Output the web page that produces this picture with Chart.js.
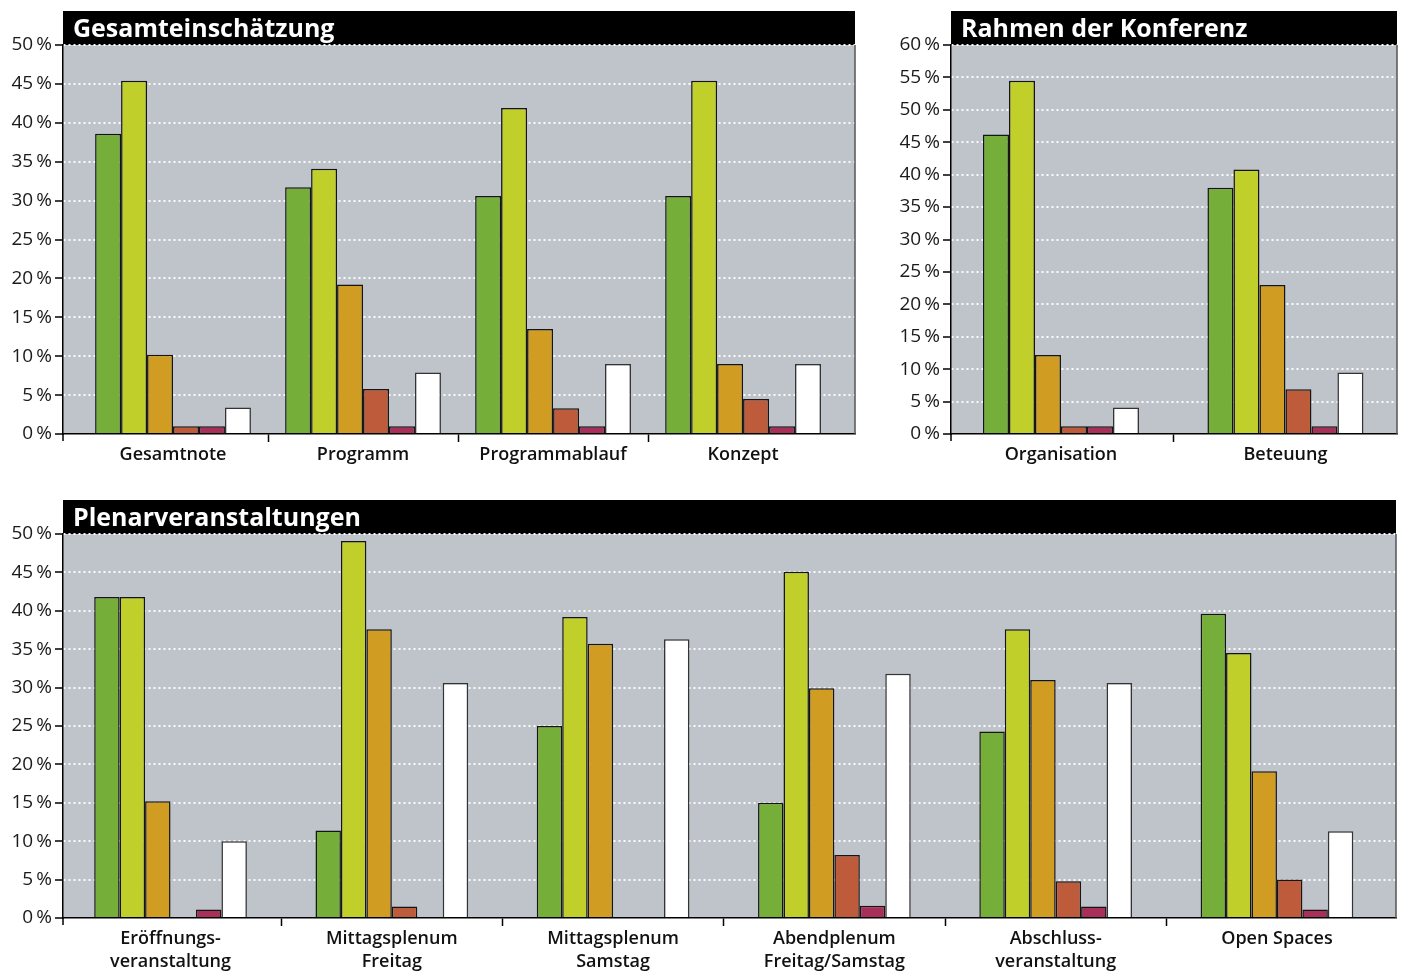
<!DOCTYPE html>
<html lang="de">
<head>
  <meta charset="UTF-8" />
  <title>Konferenz Auswertung</title>
  <script src="https://cdn.jsdelivr.net/npm/chart.js"></script>
  <style>
    body { margin: 0; background: #fff; width: 1405px; height: 971px; position: relative; overflow: hidden; }
    canvas { position: absolute; }
  </style>
</head>
<body>

  <canvas id="chartGesamt" width="870" height="480" style="left:0;top:0"></canvas>
  <canvas id="chartRahmen" width="535" height="480" style="left:870px;top:0"></canvas>
  <canvas id="chartPlenar" width="1405" height="491" style="left:0;top:480px"></canvas>

<script>
  // Rating levels (no legend in the original) and their bar colours
  const ratingNames = ['sehr gut', 'gut', 'befriedigend', 'ausreichend', 'mangelhaft', 'keine Angabe'];
  const ratingColors = ['#76ae3a', '#c1cf2a', '#d09d22', '#bd5b3b', '#a82f59', '#ffffff'];

  // Gesamteinschätzung (percent)
  const gesamtCategories = ['Gesamtnote', 'Programm', 'Programmablauf', 'Konzept'];
  const gesamtSehrGut     = [38.6, 31.7, 30.6, 30.6];
  const gesamtGut         = [45.4, 34.1, 41.9, 45.4];
  const gesamtBefr        = [10.2, 19.2, 13.5, 9.0];
  const gesamtAusr        = [1.0, 5.8, 3.3, 4.5];
  const gesamtMangelhaft  = [1.0, 1.0, 1.0, 1.0];
  const gesamtKeine       = [3.4, 7.9, 9.0, 9.0];

  // Rahmen der Konferenz (percent)
  const rahmenCategories = ['Organisation', 'Beteuung'];
  const rahmenSehrGut    = [46.2, 38.0];
  const rahmenGut        = [54.5, 40.8];
  const rahmenBefr       = [12.2, 23.0];
  const rahmenAusr       = [1.2, 6.9];
  const rahmenMangelhaft = [1.2, 1.2];
  const rahmenKeine      = [4.1, 9.5];

  // Plenarveranstaltungen (percent)
  const plenarCategories = [
    ['Eröffnungs-', 'veranstaltung'],
    ['Mittagsplenum', 'Freitag'],
    ['Mittagsplenum', 'Samstag'],
    ['Abendplenum', 'Freitag/Samstag'],
    ['Abschluss-', 'veranstaltung'],
    'Open Spaces'
  ];
  const plenarSehrGut    = [41.8, 11.4, 25.0, 15.0, 24.3, 39.6];
  const plenarGut        = [41.8, 49.1, 39.2, 45.1, 37.6, 34.5];
  const plenarBefr       = [15.2, 37.6, 35.7, 29.9, 31.0, 19.1];
  const plenarAusr       = [0, 1.5, 0, 8.2, 4.8, 5.0];
  const plenarMangelhaft = [1.1, 0, 0, 1.6, 1.5, 1.1];
  const plenarKeine      = [10.0, 30.6, 36.3, 31.8, 30.6, 11.3];

  Chart.defaults.font.family = '"Open Sans", "DejaVu Sans", sans-serif';

  // grey plot panel, black title bar, right frame and y-axis stub below the baseline
  const panelPlugin = {
    id: 'panel',
    beforeDraw(chart, args, opts) {
      const { ctx, chartArea: a } = chart;
      ctx.save();
      ctx.fillStyle = '#bfc3ca';
      ctx.fillRect(a.left, a.top, a.right - a.left, a.bottom - a.top);
      ctx.fillStyle = '#000';
      ctx.fillRect(a.left, a.top - 34, a.right - a.left, 34);
      ctx.fillStyle = '#fff';
      ctx.font = 'bold 25px "Open Sans", sans-serif';
      ctx.textBaseline = 'alphabetic';
      ctx.fillText(opts.text, a.left + 10, a.top - 8);
      ctx.restore();
    },
    afterDraw(chart) {
      const { ctx, chartArea: a } = chart;
      ctx.save();
      ctx.lineWidth = 1.5;
      ctx.strokeStyle = '#555';
      ctx.beginPath();
      ctx.moveTo(a.right, a.top);
      ctx.lineTo(a.right, a.bottom);
      ctx.stroke();
      ctx.strokeStyle = '#000';
      ctx.beginPath();
      ctx.moveTo(a.left, a.bottom);
      ctx.lineTo(a.left, a.bottom + 7);
      ctx.stroke();
      ctx.restore();
    }
  };

  function makeChart(id, cfg) {
    const datasets = cfg.series.map((values, i) => ({
      label: ratingNames[i],
      data: values,
      backgroundColor: ratingColors[i],
      borderColor: i === 5 ? '#333' : '#151515',
      borderWidth: c => (c.raw ? 1.5 : 0),
      categoryPercentage: cfg.barFrac,
      barPercentage: 1
    }));

    return new Chart(document.getElementById(id), {
      type: 'bar',
      data: { labels: cfg.categories.map((c, i) => i), datasets: datasets },
      plugins: [panelPlugin],
      options: {
        responsive: false,
        animation: false,
        layout: { padding: cfg.padding },
        plugins: {
          legend: { display: false },
          tooltip: { enabled: false },
          panel: { text: cfg.title }
        },
        scales: {
          x: {
            // linear index axis so the groups sit where they do in the original
            type: 'linear',
            min: cfg.xMin,
            max: cfg.xMax,
            offset: false,
            bounds: 'data',
            afterBuildTicks: s => { s.ticks = cfg.categories.map((c, i) => ({ value: i })); },
            afterFit: s => { s.height = cfg.xAxisHeight; },
            ticks: {
              autoSkip: false,
              maxRotation: 0,
              padding: 2,
              color: '#111',
              font: { size: 18, weight: '600', lineHeight: 1.25 },
              callback: v => cfg.categories[v]
            },
            grid: {
              offset: true,
              drawOnChartArea: false,
              tickLength: 8,
              tickWidth: 1.5,
              tickColor: c => (c.type === 'tick' && c.index > 0 ? '#000' : 'transparent')
            },
            border: { color: '#000', width: 1.5 }
          },
          y: {
            min: 0,
            max: cfg.yMax,
            afterFit: s => { s.width = cfg.yAxisWidth; },
            ticks: {
              stepSize: 5,
              padding: 3,
              color: '#1a1a1a',
              font: { size: 19 },
              callback: v => v + '\u2009%'
            },
            grid: {
              color: c => (c.tick && c.tick.value === 0 ? 'transparent' : 'rgba(255,255,255,0.95)'),
              lineWidth: 2,
              tickColor: '#000',
              tickLength: 8,
              tickWidth: 1.5
            },
            border: { color: '#000', width: 1.5, dash: [2, 3] }
          }
        }
      }
    });
  }

  makeChart('chartGesamt', {
    title: 'Gesamteinschätzung',
    categories: gesamtCategories,
    series: [gesamtSehrGut, gesamtGut, gesamtBefr, gesamtAusr, gesamtMangelhaft, gesamtKeine],
    yMax: 50,
    xMin: -0.579, xMax: 3.589,
    barFrac: 0.82,
    yAxisWidth: 63, xAxisHeight: 46,
    padding: { top: 45, right: 15, left: 0, bottom: 0 }
  });

  makeChart('chartRahmen', {
    title: 'Rahmen der Konferenz',
    categories: rahmenCategories,
    series: [rahmenSehrGut, rahmenGut, rahmenBefr, rahmenAusr, rahmenMangelhaft, rahmenKeine],
    yMax: 60,
    xMin: -0.49, xMax: 1.497,
    barFrac: 0.695,
    yAxisWidth: 81, xAxisHeight: 46,
    padding: { top: 45, right: 8, left: 0, bottom: 0 }
  });

  makeChart('chartPlenar', {
    title: 'Plenarveranstaltungen',
    categories: plenarCategories,
    series: [plenarSehrGut, plenarGut, plenarBefr, plenarAusr, plenarMangelhaft, plenarKeine],
    yMax: 50,
    xMin: -0.486, xMax: 5.538,
    barFrac: 0.69,
    yAxisWidth: 63, xAxisHeight: 53,
    padding: { top: 54, right: 9, left: 0, bottom: 0 }
  });
</script>
</body>
</html>
